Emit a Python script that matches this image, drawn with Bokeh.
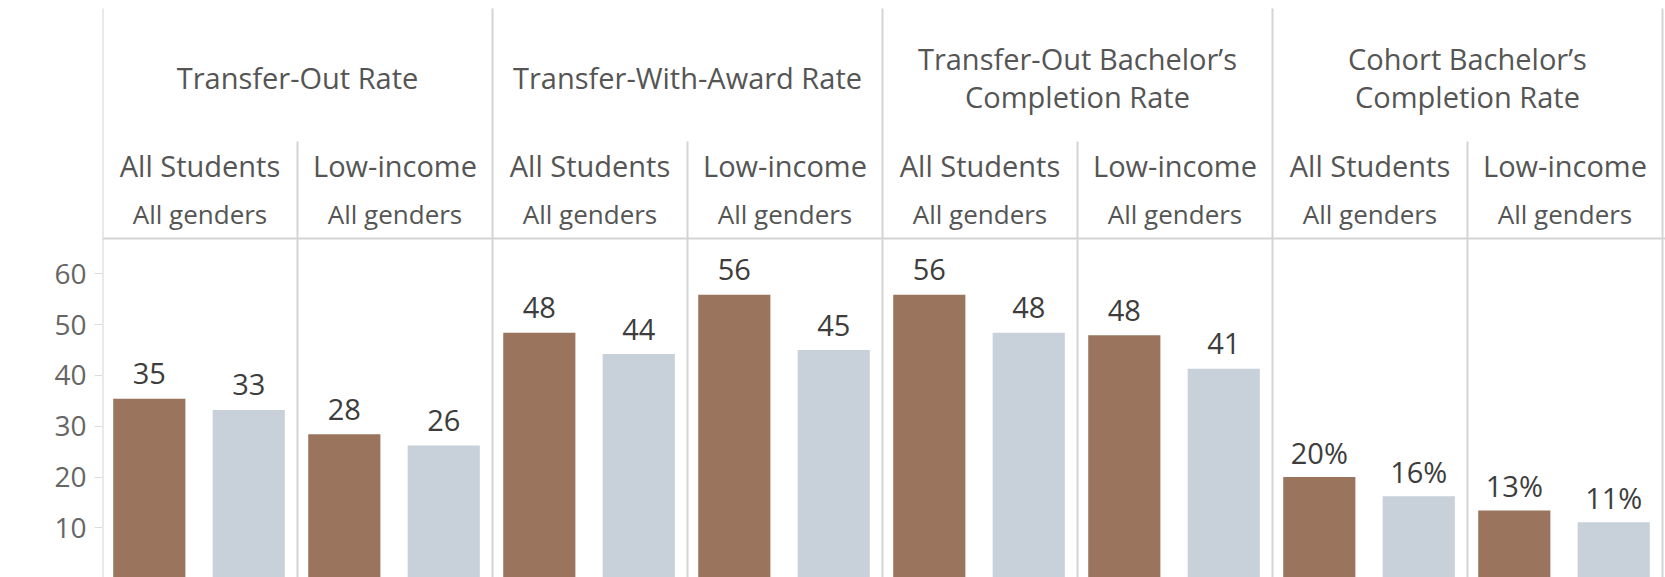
from bokeh.plotting import figure
from bokeh.models import Range1d, FixedTicker, ColumnDataSource
from bokeh.core.properties import value
from bokeh.embed import file_html
from bokeh.resources import INLINE

# ---------------- data ----------------
measures = ["Transfer-Out Rate",
            "Transfer-With-Award Rate",
            "Transfer-Out Bachelor\u2019s\nCompletion Rate",
            "Cohort Bachelor\u2019s\nCompletion Rate"]
groups = ["All Students", "Low-income"]
gender = "All genders"
brown_vals = [35.4, 28.4, 48.4, 55.9, 55.9, 47.9, 20.0, 13.4]
gray_vals = [33.2, 26.2, 44.2, 45.0, 48.4, 41.3, 16.2, 11.1]
brown_labels = ["35", "28", "48", "56", "56", "48", "20%", "13%"]
gray_labels = ["33", "26", "44", "45", "48", "41", "16%", "11%"]
y_ticks = [10, 20, 30, 40, 50, 60]

# ---------------- layout ----------------
FONT = "Open Sans"
W, H = 1665, 577
LEFT = 102           # frame left border (px)
CELL = 195           # pixel width of one sub-column
PPU = 5.08           # pixels per value unit
ZERO_Y = 578.1       # pixel y of value 0
LABEL_GAP = 25       # px between bar top and label centre


def yd(py):
    """pixel y (from top) -> data y"""
    return (ZERO_Y - py) / PPU


x_end = (W - LEFT) / CELL
y_start = (ZERO_Y - H) / PPU
y_end = ZERO_Y / PPU

p = figure(width=W, height=H, output_backend="svg", toolbar_location=None,
           x_range=Range1d(0, x_end), y_range=Range1d(y_start, y_end),
           min_border_left=LEFT, min_border_right=0, min_border_top=0,
           min_border_bottom=0, x_axis_location=None)
p.outline_line_color = None
p.grid.visible = False
p.background_fill_color = "white"
p.border_fill_color = "white"

ax = p.yaxis[0]
ax.ticker = FixedTicker(ticks=y_ticks)
ax.axis_line_color = None
ax.major_tick_line_color = "#dcdcdc"
ax.major_tick_out = 8
ax.major_tick_in = 0
ax.minor_tick_line_color = None
ax.major_label_standoff = 8
ax.major_label_text_font = FONT
ax.major_label_text_font_size = "28px"
ax.major_label_text_color = "#666666"

line_col = "#d4d4d4"
n_cols = len(groups) * len(measures)

# horizontal header separator
p.segment(x0=[0], x1=[x_end], y0=[yd(238)], y1=[yd(238)],
          line_color=line_col, line_width=2)
# major dividers
major_x = [i * len(groups) for i in range(len(measures) + 1)]
p.segment(x0=major_x, x1=major_x, y0=[y_start] * len(major_x),
          y1=[yd(8)] * len(major_x), line_color=line_col, line_width=2)
# sub dividers
sub_x = [i * len(groups) + 1 for i in range(len(measures))]
p.segment(x0=sub_x, x1=sub_x, y0=[y_start] * len(sub_x),
          y1=[yd(141)] * len(sub_x), line_color=line_col, line_width=2)

# bars
BW = 0.37
bx = [i + 0.24 for i in range(n_cols)]
gx = [i + 0.75 for i in range(n_cols)]
src_b = ColumnDataSource(dict(x=bx, top=brown_vals, lab=brown_labels,
                              ly=[v + LABEL_GAP / PPU for v in brown_vals]))
src_g = ColumnDataSource(dict(x=gx, top=gray_vals, lab=gray_labels,
                              ly=[v + LABEL_GAP / PPU for v in gray_vals]))
p.vbar(x="x", top="top", bottom=0, width=BW, source=src_b,
       fill_color="#9a745c", line_color=None)
p.vbar(x="x", top="top", bottom=0, width=BW, source=src_g,
       fill_color="#c8d0da", line_color=None)
for src in (src_b, src_g):
    p.text(x="x", y="ly", text="lab", source=src, text_align="center",
           text_baseline="middle",
           text_font=value(FONT), text_font_size="29px", text_color="#3d3d3d")

# measure headers
hx, hy, ht = [], [], []
for i, m in enumerate(measures):
    lines = m.split("\n")
    n = len(lines)
    for k, ln in enumerate(lines):
        hx.append(i * len(groups) + len(groups) / 2)
        hy.append(yd(76.8 + (k - (n - 1) / 2) * 38.0))
        ht.append(ln)
p.text(x=hx, y=hy, text=ht, text_align="center", text_baseline="middle",
       text_font=value(FONT), text_font_size="29px", text_color="#555555")

# group + gender headers
gx_c = [i + 0.5 for i in range(n_cols)]
g_txt = [groups[i % len(groups)] for i in range(n_cols)]
p.text(x=gx_c, y=[yd(165)] * n_cols, text=g_txt, text_align="center",
       text_baseline="middle", text_font=value(FONT),
       text_font_size="29px", text_color="#555555")
p.text(x=gx_c, y=[yd(213.5)] * n_cols, text=[gender] * n_cols,
       text_align="center", text_baseline="middle", text_font=value(FONT),
       text_font_size="26px", text_color="#555555")

open("out.html", "w").write(file_html(p, INLINE))
